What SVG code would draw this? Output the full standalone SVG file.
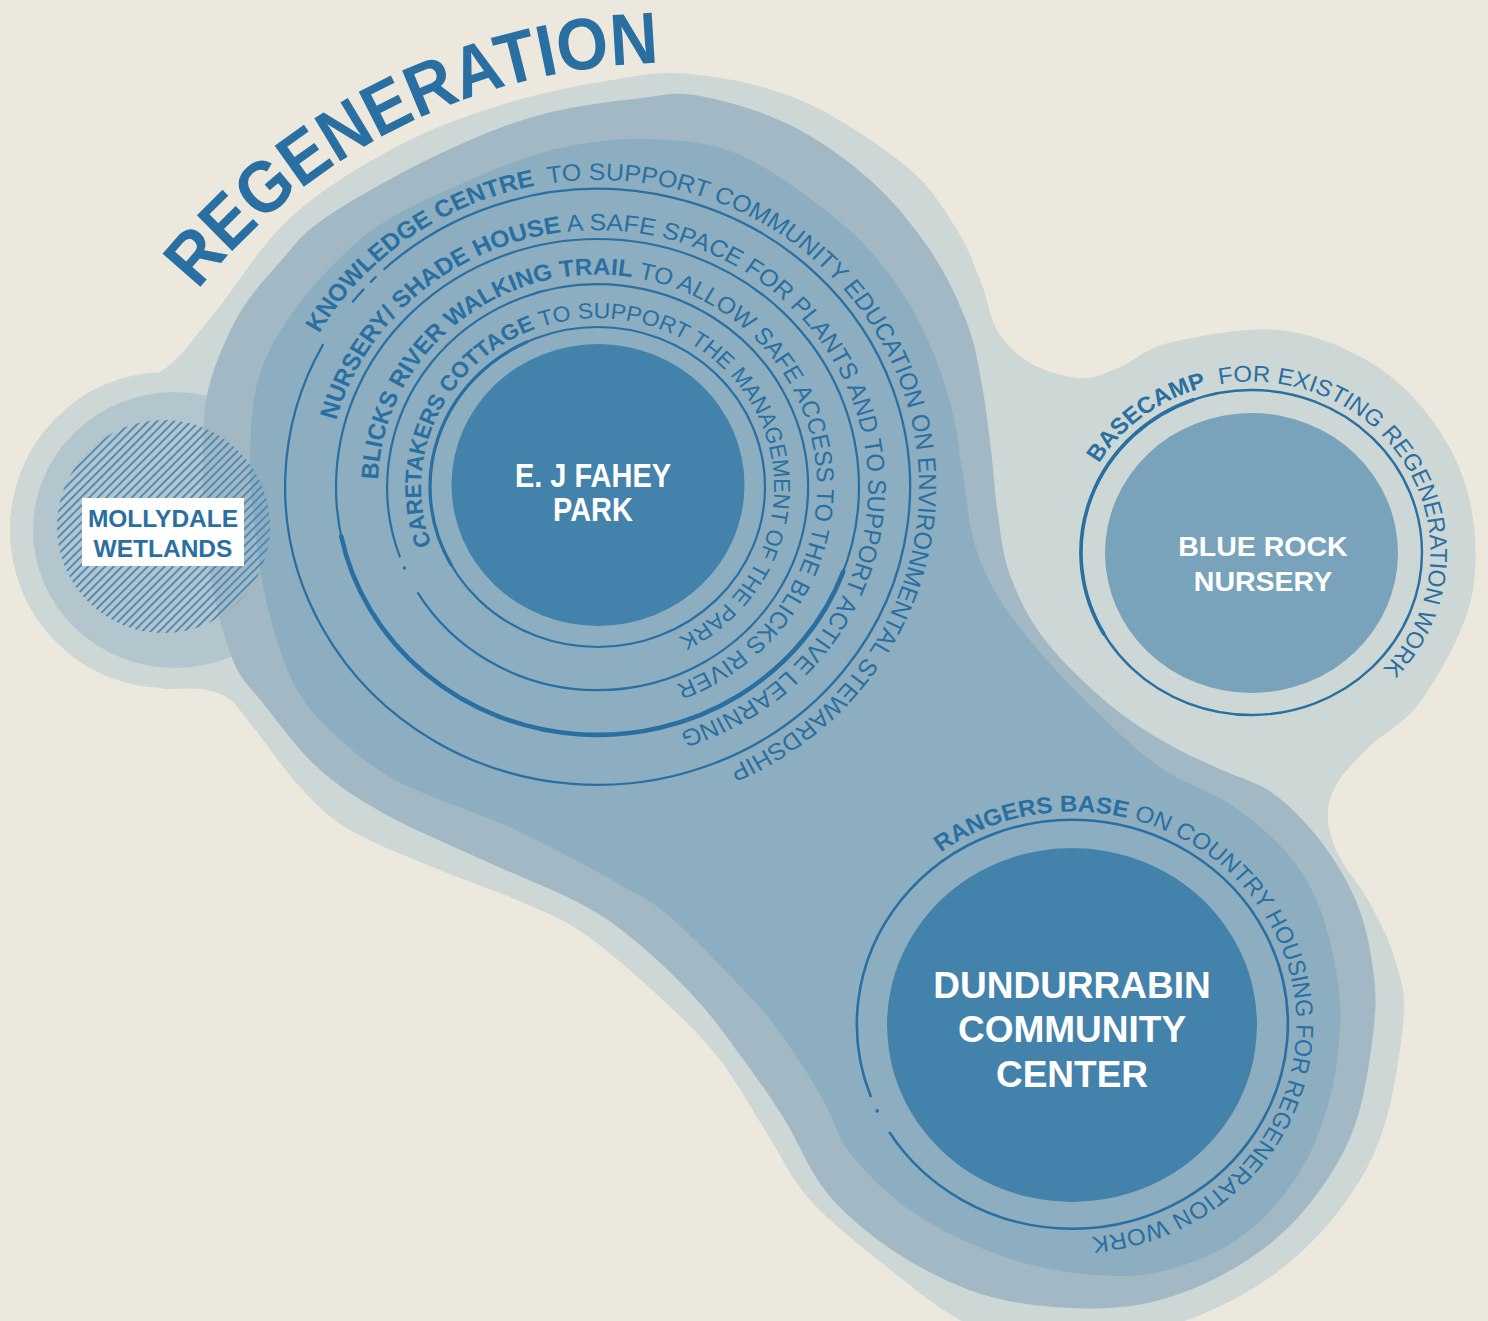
<svg xmlns="http://www.w3.org/2000/svg" width="1488" height="1321" viewBox="0 0 1488 1321">
<defs>
<style>
.t{font-family:"Liberation Sans",Arial,sans-serif;fill:#2A6FA1}
.b{font-weight:bold}
.w{font-family:"Liberation Sans",Arial,sans-serif;font-weight:bold;fill:#FFFFFF;text-anchor:middle}
.ln{fill:none;stroke:#2A6FA1;stroke-linecap:round}
.dot{fill:#2A6FA1}
</style>
<pattern id="hatch" width="6" height="10" patternUnits="userSpaceOnUse" patternTransform="rotate(45)"><rect width="1.9" height="10" fill="#4F88B3"/></pattern>
<path id="p4" d="M-265.9,-153.5 A307,307 0 1 1 -288.5,-105.0"/>
<path id="p3" d="M-248.2,-66.5 A257,257 0 1 1 -256.0,-22.4"/>
<path id="p2" d="M-211.9,-7.4 A212,212 0 1 1 -209.9,29.5"/>
<path id="p1" d="M-158.8,57.8 A169,169 0 1 1 -146.4,84.5"/>
<path id="pB" d="M-145.8,-89.3 A171,171 0 1 1 -159.1,-62.7"/>
<path id="pD" d="M-125.2,-172.3 A213,213 0 1 1 -153.2,-148.0"/>
<path id="pRegen" d="M197.8,290.3 A609,609 0 0 1 976.9,144.5"/>
</defs>
<rect width="1488" height="1321" fill="#ECE8DD"/>
<g id="landscape">
<path fill="#CDD7D5" d="M690,74 C722.3,77.2 763.8,84.5 800,100 C836.2,115.5 880.8,145.3 907,167 C933.2,188.7 944.5,210.3 957,230 C969.5,249.7 975.3,268.3 982,285 C988.7,301.7 989,317 997,330 C1005,343 1016.2,355 1030,363 C1043.8,371 1065.3,377.2 1080,378 C1094.7,378.8 1102.3,374.1 1118,368 C1133.7,361.9 1145.3,347.6 1174,341.5 C1202.7,335.4 1253.1,325 1290,331.5 C1326.9,338 1366.75,356.4 1395.5,380.5 C1424.25,404.6 1449.7,440.75 1462.5,476 C1475.3,511.25 1479,555.1 1472.5,592 C1466,628.9 1440.9,671.5 1423.5,697.5 C1406.1,723.5 1382.6,733.4 1368,748 C1353.4,762.6 1342.7,773 1336,785 C1329.3,797 1327.3,807.8 1328,820 C1328.7,832.2 1333.3,844.7 1340,858 C1346.7,871.3 1358.8,883 1368,900 C1377.2,917 1389.2,939.2 1395,960 C1400.8,980.8 1406.8,992 1403,1025 C1399.2,1058 1391.7,1117.8 1372,1158 C1352.3,1198.2 1320.7,1237.5 1285,1266 C1249.3,1294.5 1203.1,1317.5 1158,1329 C1112.9,1340.5 1047.5,1336.5 1014.5,1335 C981.5,1333.5 981.25,1331.3 960,1320 C938.75,1308.7 912,1287 887,1267 C862,1247 830.3,1222.8 810,1200 C789.7,1177.2 780,1153.3 765,1130 C750,1106.7 737,1081.7 720,1060 C703,1038.3 685.8,1021.2 663,1000 C640.2,978.8 607.3,949.7 583,933 C558.7,916.3 540.8,910.5 517,900 C493.2,889.5 467.8,881.7 440,870 C412.2,858.3 373.3,843.8 350,830 C326.7,816.2 316.7,804.8 300,787 C283.3,769.2 262,737.8 250,723 C238,708.2 236.3,703.7 228,698 C219.7,692.3 210.5,690.5 200,689 C189.5,687.5 178,689.5 165,689 C146.3,685.3 110.3,680.3 88,667 C65.7,653.7 44,631.8 31,609 C18,586.2 10,556.3 10,530 C10,503.7 18,473.8 31,451 C44,428.2 66.5,406.2 88,393 C109.5,379.8 139.3,384.8 160,372 C180.7,359.2 190.3,341.7 212,316 C233.7,290.3 259.3,246.2 290,218 C320.7,189.8 360.8,165.8 396,147 C431.2,128.2 466,116 501,105 C536,94 574.5,86.2 606,81 C637.5,75.8 657.7,70.8 690,74 Z"/>
<ellipse cx="166" cy="530" rx="156" ry="158" fill="#CDD7D5"/>
<ellipse cx="175" cy="530" rx="142" ry="138" fill="#B3C6CE"/>
<path fill="#A2B9C5" d="M700,96 C724.8,100.5 761.7,111 790,125 C818.3,139 846.7,159.2 870,180 C893.3,200.8 913.8,226.2 930,250 C946.2,273.8 958.3,300.5 967,323 C975.7,345.5 978,363.8 982,385 C986,406.2 988.3,428.3 991,450 C993.7,471.7 994.8,494.2 998,515 C1001.2,535.8 1002.2,554.2 1010,575 C1017.8,595.8 1028.3,618.3 1045,640 C1061.7,661.7 1089.2,687.5 1110,705 C1130.8,722.5 1151.3,734.2 1170,745 C1188.7,755.8 1205.2,762.2 1222,770 C1238.8,777.8 1255.5,781.3 1271,792 C1286.5,802.7 1301.8,818 1315,834 C1328.2,850 1340.5,868.7 1350,888 C1359.5,907.3 1366.3,927.2 1370,950 C1373.7,972.8 1377.8,992.3 1374,1025 C1370.2,1057.7 1364.5,1109.7 1346.3,1146.3 C1328.1,1182.9 1301.7,1218.8 1268.7,1244.8 C1235.7,1270.8 1192.7,1292.5 1151.2,1302.2 C1109.7,1311.9 1058.5,1308.9 1020,1303 C981.5,1297.1 951.2,1284.2 920,1267 C888.8,1249.8 855.8,1225 833,1200 C810.2,1175 798.5,1141.2 783,1117 C767.5,1092.8 754.3,1074.5 740,1055 C725.7,1035.5 713.7,1018.3 697,1000 C680.3,981.7 659,960.8 640,945 C621,929.2 609.2,919.2 583,905 C556.8,890.8 516.3,875.3 483,860 C449.7,844.7 410.7,828.5 383,813 C355.3,797.5 337.2,785.5 317,767 C296.8,748.5 275.7,719 262,702 C248.3,685 242.8,682 235,665 C227.2,648 220,622.5 215,600 C210,577.5 207,553.3 205,530 C203,506.7 202.5,483.3 203,460 C203.5,436.7 202.2,414 208,390 C213.8,366 226,337.3 238,316 C250,294.7 265.5,278.3 280,262 C294.5,245.7 299.8,235.3 325,218 C350.2,200.7 395.8,175 431,158 C466.2,141 501,126 536,116 C571,106 613.7,101.3 641,98 C668.3,94.7 675.2,91.5 700,96 Z"/>
<path fill="#8CAEC0" d="M650,139 C678.3,140.5 708.3,141.2 740,155 C771.7,168.8 814.2,200.8 840,222 C865.8,243.2 880,261.5 895,282 C910,302.5 920.5,323.7 930,345 C939.5,366.3 946.5,388.3 952,410 C957.5,431.7 959.2,452.5 963,475 C966.8,497.5 968.8,524.2 975,545 C981.2,565.8 988.3,581.2 1000,600 C1011.7,618.8 1028.3,638.8 1045,658 C1061.7,677.2 1080.7,696.7 1100,715 C1119.3,733.3 1138.8,752.8 1161,768 C1183.2,783.2 1212.2,792 1233,806 C1253.8,820 1271.2,835.3 1286,852 C1300.8,868.7 1311,886.3 1319,906 C1327,925.7 1332.3,949.3 1336,970 C1339.7,990.7 1341.3,1007.5 1340,1030 C1338.7,1052.5 1335.3,1080.8 1328,1105 C1320.7,1129.2 1311.7,1154.2 1298,1175 C1284.3,1195.8 1268.3,1215.3 1250,1230 C1231.7,1244.7 1211.7,1255.3 1190,1263 C1168.3,1270.7 1148.3,1276.2 1120,1276 C1091.7,1275.8 1053.3,1271.8 1020,1262 C986.7,1252.2 947.8,1234.5 920,1217 C892.2,1199.5 869.2,1176.5 853,1157 C836.8,1137.5 833.5,1118.3 823,1100 C812.5,1081.7 801.7,1063.7 790,1047 C778.3,1030.3 773,1021.7 753,1000 C733,978.3 692.7,936.5 670,917 C647.3,897.5 637,894.7 617,883 C597,871.3 570.7,857.5 550,847 C529.3,836.5 512.5,828.3 493,820 C473.5,811.7 451.3,804.8 433,797 C414.7,789.2 399.7,783.7 383,773 C366.3,762.3 346.8,746 333,733 C319.2,720 308.8,708.8 300,695 C291.2,681.2 285.8,666.7 280,650 C274.2,633.3 269.2,615 265,595 C260.8,575 257.5,552.5 255,530 C252.5,507.5 249.5,485 250,460 C250.5,435 251.3,404 258,380 C264.7,356 276.3,336.3 290,316 C303.7,295.7 322.3,274.8 340,258 C357.7,241.2 369.2,230.2 396,215 C422.8,199.8 472,178.5 501,167 C530,155.5 545.2,150.7 570,146 C594.8,141.3 621.7,137.5 650,139 Z"/>
</g>
<g id="node-mollydale">
<circle cx="163.5" cy="526.5" r="106.5" fill="url(#hatch)"/>
<rect x="82" y="498" width="162" height="68" fill="#FFFFFF"/>
<text class="t b" font-size="24.5" text-anchor="middle"><tspan x="163" y="527">MOLLYDALE</tspan><tspan x="163" y="557">WETLANDS</tspan></text>
</g>
<g id="node-fahey">
<ellipse cx="598" cy="485" rx="146.5" ry="141" fill="#4382AB"/>
<ellipse class="ln" cx="597.5" cy="487" rx="167.5" ry="160" stroke-width="2.2"/>
<path class="ln" stroke-width="3.2" d="M451.0,564.6 A167.5,160 0 0 1 526.7,342.0"/>
<path class="ln" stroke-width="2.2" d="M399.7,556.4 A210.5,203 0 1 1 418.0,593.1"/>
<circle class="dot" cx="404.4" cy="567.9" r="1.7"/>
<ellipse class="ln" cx="597.5" cy="487" rx="261.5" ry="248" stroke-width="2.2"/>
<path class="ln" stroke-width="4.6" d="M843.2,571.8 A261.5,248 0 0 1 341.3,536.5"/>
<path class="ln" stroke-width="2.3" d="M384.4,269.0 A312.5,298 0 1 1 322.9,344.8"/>
<path class="ln" stroke-width="2.3" d="M352.9,301.5 A312.5,298 0 0 1 363.4,289.5"/>
<path class="ln" stroke-width="2.3" d="M370.8,281.9 A312.5,298 0 0 1 375.7,277.0"/>
<g transform="translate(597.5 487) scale(1.0472 1)">
<text class="t" font-size="23.8"><textPath href="#p4"><tspan class="b">KNOWLEDGE CENTRE</tspan><tspan dx="6"> TO SUPPORT COMMUNITY EDUCATION ON ENVIRONMENTAL STEWARDSHIP</tspan></textPath></text>
</g>
<g transform="translate(597.5 487) scale(1.0525 1)">
<text class="t" font-size="23.7"><textPath href="#p3"><tspan class="b">NURSERY/ SHADE HOUSE</tspan><tspan> A SAFE SPACE FOR PLANTS AND TO SUPPORT ACTIVE LEARNING</tspan></textPath></text>
</g>
<g transform="translate(597.5 487) scale(1.0354 1)">
<text class="t" font-size="23.5"><textPath href="#p2"><tspan class="b">BLICKS RIVER WALKING TRAIL</tspan><tspan> TO ALLOW SAFE ACCESS TO THE BLICKS RIVER</tspan></textPath></text>
</g>
<g transform="translate(597.5 487) scale(1.0444 1)">
<text class="t" font-size="22"><textPath href="#p1"><tspan class="b">CARETAKERS COTTAGE</tspan><tspan> TO SUPPORT THE MANAGEMENT OF THE PARK</tspan></textPath></text>
</g>
<text class="w" font-size="33.5" transform="translate(593 0) scale(0.865 1)"><tspan x="0" y="487">E. J FAHEY</tspan><tspan x="0" y="521">PARK</tspan></text>
</g>
<g id="node-bluerock">
<ellipse cx="1251.5" cy="553" rx="146.5" ry="140" fill="#79A3BA"/>
<ellipse class="ln" cx="1251.5" cy="552.5" rx="170.5" ry="162.5" stroke-width="2.4"/>
<path class="ln" stroke-width="3.6" d="M1103.8,633.75 A170.5,162.5 0 0 1 1193.2,399.8"/>
<g transform="translate(1251.5 552.5) scale(1.0468 1)">
<text class="t" font-size="22.9"><textPath href="#pB"><tspan class="b">BASECAMP</tspan><tspan dx="6"> FOR EXISTING REGENERATION WORK</tspan></textPath></text>
</g>
<text class="w" font-size="28.5"><tspan x="1263" y="556">BLUE ROCK</tspan><tspan x="1263" y="591">NURSERY</tspan></text>
</g>
<g id="node-dundurrabin">
<ellipse cx="1072" cy="1025" rx="185" ry="177" fill="#4382AB"/>
<path class="ln" stroke-width="2.6" d="M870.6,1096.1 A215.5,204.5 0 1 1 889.8,1132.9"/>
<circle class="dot" cx="877.2" cy="1110.9" r="1.8"/>
<g transform="translate(1072.5 1024.5) scale(1.0516 1)">
<text class="t" font-size="23.1"><textPath href="#pD"><tspan class="b">RANGERS BASE</tspan><tspan> ON COUNTRY HOUSING FOR REGENERATION WORK</tspan></textPath></text>
</g>
<text class="w" font-size="37"><tspan x="1072" y="998">DUNDURRABIN</tspan><tspan x="1072" y="1042">COMMUNITY</tspan><tspan x="1072" y="1087">CENTER</tspan></text>
</g>
<g id="title">
<text class="t b" font-size="73"><textPath href="#pRegen" textLength="531" lengthAdjust="spacingAndGlyphs">REGENERATION</textPath></text>
</g>
</svg>
